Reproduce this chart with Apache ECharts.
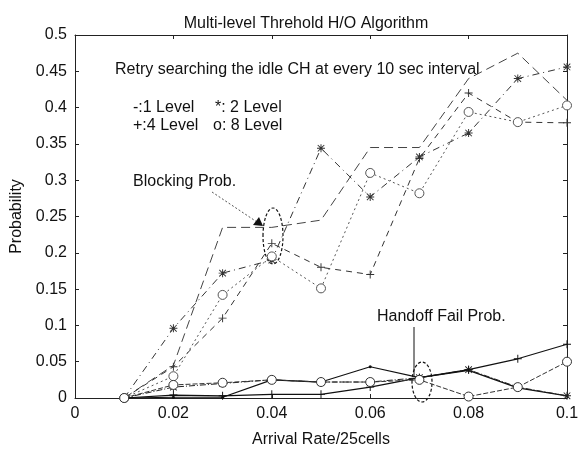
<!DOCTYPE html>
<html>
<head>
<meta charset="utf-8">
<script src="https://cdn.jsdelivr.net/npm/echarts@6/dist/echarts.min.js"></script>
<style>html,body{margin:0;padding:0;background:#fff;}#c{width:582px;height:460px;}</style>
</head>
<body>
<div id="c"></div>
<script>
// Arrival rates (x)
const arrivalRates = [0.01, 0.02, 0.03, 0.04, 0.05, 0.06, 0.07, 0.08, 0.09, 0.10];
// Blocking probability
const block1 = [0.000, 0.045, 0.235, 0.235, 0.245, 0.345, 0.345, 0.440, 0.475, 0.410];
const block2 = [0.000, 0.096, 0.172, 0.190, 0.344, 0.277, 0.332, 0.365, 0.440, 0.456];
const block4 = [0.000, 0.043, 0.110, 0.213, 0.180, 0.170, 0.330, 0.420, 0.380, 0.379];
const block8 = [0.000, 0.030, 0.142, 0.195, 0.151, 0.310, 0.282, 0.394, 0.380, 0.403];
// Handoff fail probability
const hand1 = [0.000, 0.001, 0.001, 0.025, 0.022, 0.043, 0.028, 0.038, 0.014, 0.003];
const hand2 = [0.000, 0.015, 0.020, 0.025, 0.022, 0.022, 0.028, 0.039, 0.015, 0.003];
const hand4 = [0.000, 0.004, 0.003, 0.005, 0.005, 0.015, 0.028, 0.039, 0.054, 0.074];
const hand8 = [0.000, 0.018, 0.021, 0.025, 0.022, 0.022, 0.025, 0.002, 0.015, 0.050];
// Ticks
const xTicks = [0, 0.02, 0.04, 0.06, 0.08, 0.1];
const yTicks = [0, 0.05, 0.1, 0.15, 0.2, 0.25, 0.3, 0.35, 0.4, 0.45, 0.5];

const PLUS = 'path://M4.4,0h1.2v4.4h4.4v1.2h-4.4v4.4h-1.2v-4.4h-4.4v-1.2h4.4z';
const STAR = 'path://M4.4,0h1.2v4.4h4.4v1.2h-4.4v4.4h-1.2v-4.4h-4.4v-1.2h4.4z M1.3,0.5L5,4.2L8.7,0.5L9.5,1.3L5.8,5L9.5,8.7L8.7,9.5L5,5.8L1.3,9.5L0.5,8.7L4.2,5L0.5,1.3z';

function pts(arr){ return arrivalRates.map((x,i)=>[x, arr[i]]); }
function fmt(v){ return String(+v.toFixed(2)); }

function ser(data, symbol, size, lineType, color, width, filled){
  return {
    type:'line', data: pts(data), symbol: symbol, symbolSize: size,
    showSymbol: symbol !== 'none',
    lineStyle:{color: color, width: width, type: lineType},
    itemStyle:{color: filled ? color : '#fff', borderColor: color, borderWidth: filled ? 0 : 1},
    emphasis:{disabled:true}, animation:false, z:3
  };
}

const chart = echarts.init(document.getElementById('c'), null, {renderer:'canvas'});
const fontFam = '"Liberation Sans", Arial, sans-serif';
const axisCommon = {
  type:'value',
  axisLine:{show:true, onZero:false, lineStyle:{color:'#222', width:1}},
  axisTick:{show:true, inside:true, length:4, lineStyle:{color:'#222'}},
  splitLine:{show:false}
};
chart.setOption({
  backgroundColor:'#fff',
  animation:false,
  title:{text:'Multi-level Threhold H/O Algorithm', left:301, top:11, textAlign:'center',
    textStyle:{fontFamily:fontFam, fontSize:16, fontWeight:'normal', color:'#111'}},
  grid:{left:75, right:15, top:35, bottom:62},
  xAxis:[
    Object.assign({}, axisCommon, {min:0, max:0.1, interval:0.02, position:'bottom',
      name:'Arrival Rate/25cells', nameLocation:'middle', nameGap:34,
      nameTextStyle:{fontFamily:fontFam, fontSize:16, color:'#111'},
      axisLabel:{formatter:fmt, fontFamily:fontFam, fontSize:16, color:'#111', margin:8, showMinLabel:true, showMaxLabel:true}}),
    Object.assign({}, axisCommon, {min:0, max:0.1, interval:0.02, position:'top', axisLabel:{show:false}})
  ],
  yAxis:[
    Object.assign({}, axisCommon, {min:0, max:0.5, interval:0.05, position:'left',
      name:'Probability', nameLocation:'middle', nameGap:49,
      nameTextStyle:{fontFamily:fontFam, fontSize:16, color:'#111'},
      axisLabel:{formatter:fmt, fontFamily:fontFam, fontSize:16, color:'#111', margin:8}}),
    Object.assign({}, axisCommon, {min:0, max:0.5, interval:0.05, position:'right', axisLabel:{show:false}})
  ],
  series:[
    ser(block1, 'none', 0, [9,5], '#444', 1, true),
    ser(block2, STAR, 8, [7,4,1,4], '#333', 1, true),
    ser(block4, PLUS, 8, [6,5], '#333', 1, true),
    ser(block8, 'circle', 9, [2,3], '#555', 1, false),
    ser(hand1, 'circle', 3, 'solid', '#111', 1.2, true),
    ser(hand2, STAR, 8, [6,2,1,2], '#222', 1, true),
    ser(hand4, PLUS, 8, 'solid', '#111', 1.2, true),
    ser(hand8, 'circle', 9, [5,2], '#333', 1, false)
  ],
  graphic:[
    {type:'text', left:115, top:62, style:{text:'Retry searching the idle CH at every 10 sec interval', font:'16px '+fontFam, fill:'#111'}},
    {type:'text', left:133, top:100, style:{text:'-:1 Level', font:'16px '+fontFam, fill:'#111'}},
    {type:'text', left:215, top:100, style:{text:'*: 2 Level', font:'16px '+fontFam, fill:'#111'}},
    {type:'text', left:133, top:118, style:{text:'+:4 Level', font:'16px '+fontFam, fill:'#111'}},
    {type:'text', left:213, top:118, style:{text:'o: 8 Level', font:'16px '+fontFam, fill:'#111'}},
    {type:'text', left:133, top:174, style:{text:'Blocking Prob.', font:'16px '+fontFam, fill:'#111'}},
    {type:'text', left:377, top:309, style:{text:'Handoff Fail Prob.', font:'16px '+fontFam, fill:'#111'}},
    {type:'line', shape:{x1:212, y1:192, x2:257, y2:222}, style:{stroke:'#555', lineWidth:1, lineDash:[2,2]}},
    {type:'polygon', shape:{points:[[263,226],[253,225],[259,217]]}, style:{fill:'#111'}},
    {type:'ellipse', shape:{cx:273, cy:236, rx:10, ry:28}, style:{fill:'none', stroke:'#111', lineWidth:1.2, lineDash:[3,2]}},
    {type:'line', shape:{x1:414, y1:327, x2:414, y2:376}, style:{stroke:'#111', lineWidth:1}},
    {type:'ellipse', shape:{cx:422, cy:382, rx:10, ry:20}, style:{fill:'none', stroke:'#111', lineWidth:1.2, lineDash:[3,2]}}
  ]
});
</script>
</body>
</html>
